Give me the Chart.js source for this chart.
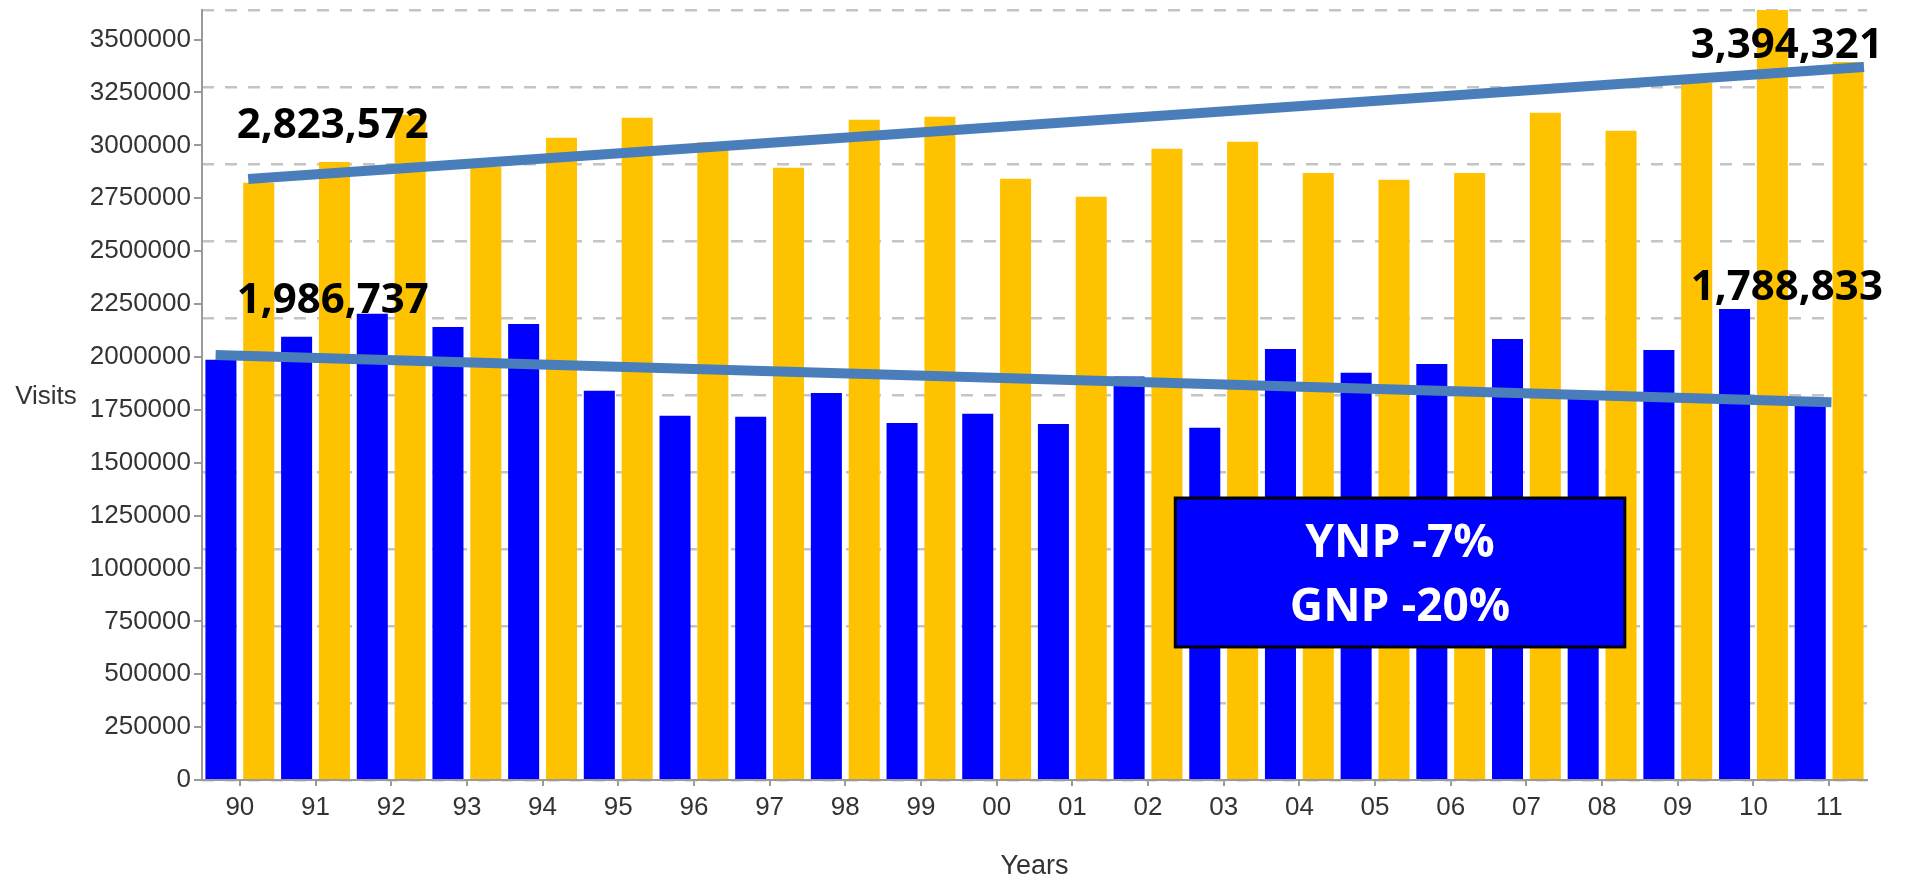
<!DOCTYPE html>
<html>
<head>
<meta charset="utf-8">
<title>Park visits 1990-2011</title>
<script src="https://cdn.jsdelivr.net/npm/chart.js@4.4.1/dist/chart.umd.min.js"></script>
<style>
  body { margin: 0; background: #fff; }
  canvas { display: block; }
</style>
</head>
<body>
<canvas id="visits" width="1906" height="880"></canvas>
<script>
const years = ['90', '91', '92', '93', '94', '95', '96', '97', '98', '99', '00',
               '01', '02', '03', '04', '05', '06', '07', '08', '09', '10', '11'];

// blue bars
const gnpVisits = [1986737, 2095000, 2204000, 2142000, 2156000, 1840000, 1722000, 1717000,
                   1830000, 1688000, 1731000, 1683000, 1908000, 1665000, 2038000, 1925000,
                   1967000, 2085000, 1830000, 2033000, 2227000, 1788833];
// yellow bars
const ynpVisits = [2823572, 2922000, 3145000, 2899000, 3036000, 3131000, 3015000, 2894000,
                   3121000, 3135000, 2842000, 2757000, 2984000, 3017000, 2870000, 2837000,
                   2870000, 3154000, 3069000, 3295000, 3640000, 3394321];

const yTicks = [0, 250000, 500000, 750000, 1000000, 1250000, 1500000, 1750000,
                2000000, 2250000, 2500000, 2750000, 3000000, 3250000, 3500000];
const yMax = 3640000;

// trend lines, x = category index (0 is '90')
const ynpTrend = [{x: 0.11, y: 2841000}, {x: 21.46, y: 3371000}];
const gnpTrend = [{x: -0.32, y: 2009000}, {x: 21.03, y: 1785500}];

const trendLabels = [
    {text: '2,823,572', x: -0.04, y: 3035000, align: 'left'},
    {text: '1,986,737', x: -0.04, y: 2207600, align: 'left'},
    {text: '3,394,321', x: 21.71, y: 3413000, align: 'right'},
    {text: '1,788,833', x: 21.71, y: 2269000, align: 'right'}
];

const summaryLines = ['YNP -7%', 'GNP -20%'];
const summaryBox = {x0: 12.36, x1: 18.30, y0: 1333000, y1: 629000};

const notes = {
    id: 'notes',
    afterDatasetsDraw(chart) {
        const {ctx, chartArea, scales} = chart;
        const x = scales.x;
        const y = scales.y;
        ctx.save();

        // summary box
        const left = x.getPixelForValue(summaryBox.x0);
        const right = x.getPixelForValue(summaryBox.x1);
        const top = y.getPixelForValue(summaryBox.y0);
        const bottom = y.getPixelForValue(summaryBox.y1);
        ctx.fillStyle = '#0000ff';
        ctx.fillRect(left, top, right - left, bottom - top);
        ctx.lineWidth = 3;
        ctx.strokeStyle = '#000';
        ctx.strokeRect(left, top, right - left, bottom - top);
        ctx.fillStyle = '#fff';
        ctx.font = 'bold 46px "Open Sans"';
        ctx.textAlign = 'center';
        ctx.textBaseline = 'middle';
        const h = bottom - top;
        ctx.fillText(summaryLines[0], (left + right) / 2, top + h * 0.31);
        ctx.fillText(summaryLines[1], (left + right) / 2, top + h * 0.74);

        // value labels near the trend lines
        ctx.fillStyle = '#000';
        ctx.font = 'bold 42px "Open Sans"';
        ctx.textBaseline = 'alphabetic';
        trendLabels.forEach(l => {
            ctx.textAlign = l.align;
            ctx.fillText(l.text, x.getPixelForValue(l.x), y.getPixelForValue(l.y));
        });

        // horizontal y title
        ctx.fillStyle = '#333';
        ctx.font = '26px "Liberation Sans"';
        ctx.textAlign = 'center';
        ctx.textBaseline = 'middle';
        ctx.fillText('Visits', 46, (chartArea.top + chartArea.bottom) / 2 + 2);
        ctx.restore();
    }
};

const axisGray = '#9a9a9a';
const labelFont = {family: 'Liberation Sans', size: 26};

new Chart(document.getElementById('visits'), {
    type: 'bar',
    data: {
        labels: years,
        datasets: [
            {
                type: 'line', data: ynpTrend, parsing: false,
                borderColor: '#4a7ebb', borderWidth: 10, pointRadius: 0, order: 0
            },
            {
                type: 'line', data: gnpTrend, parsing: false,
                borderColor: '#4a7ebb', borderWidth: 10, pointRadius: 0, order: 0
            },
            {
                label: 'GNP', data: gnpVisits, backgroundColor: '#0000ff',
                barPercentage: 0.82, categoryPercentage: 1.0, order: 1
            },
            {
                label: 'YNP', data: ynpVisits, backgroundColor: '#ffc200',
                barPercentage: 0.82, categoryPercentage: 1.0, order: 1
            }
        ]
    },
    options: {
        responsive: false,
        animation: false,
        devicePixelRatio: 1,
        layout: {padding: {left: 0, top: 10, right: 39, bottom: 0}},
        plugins: {
            legend: {display: false},
            tooltip: {enabled: false}
        },
        scales: {
            x: {
                type: 'category',
                offset: true,
                grid: {drawOnChartArea: false, offset: false, tickLength: 6, color: axisGray, lineWidth: 2},
                border: {color: axisGray, width: 2},
                ticks: {font: labelFont, color: '#333', padding: 6, maxRotation: 0, autoSkip: false},
                title: {display: true, text: 'Years', font: {family: 'Liberation Sans', size: 27, lineHeight: 1},
                        color: '#333', padding: 0},
                afterFit: s => { s.height = 100; }
            },
            y: {
                type: 'linear',
                min: 0,
                max: yMax,
                grid: {drawOnChartArea: false, tickLength: 8, color: axisGray, lineWidth: 2},
                border: {color: axisGray, width: 2},
                ticks: {autoSkip: false, font: labelFont, color: '#333', padding: 3,
                        callback: v => String(v)},
                afterBuildTicks: s => { s.ticks = yTicks.map(v => ({value: v})); },
                afterFit: s => { s.width = 202; s.paddingTop = 0; s.paddingBottom = 0; }
            },
            // dashed background grid, ten even steps
            yGrid: {
                type: 'linear',
                position: 'right',
                min: 0,
                max: 10,
                ticks: {display: false, stepSize: 1},
                border: {display: false, dash: [12, 11]},
                grid: {drawTicks: false, color: '#c4c4c4', lineWidth: 2.5},
                afterFit: s => { s.width = 0; }
            }
        }
    },
    plugins: [notes]
});
</script>
</body>
</html>
